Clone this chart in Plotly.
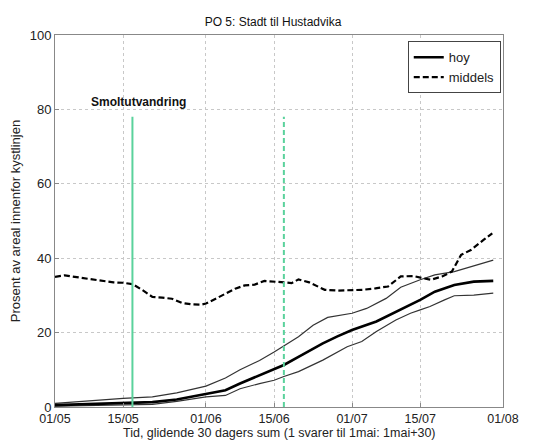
import pandas as pd
import plotly.graph_objects as go

# Day offsets from 01/05 and values
hoy_days = [0, 7, 14, 20, 25, 31, 35, 38, 42, 45, 47, 50, 55, 58, 61, 66, 70, 75, 78, 82, 86, 90]
hoy_vals = [0.5, 0.8, 1.0, 1.3, 2.0, 3.6, 4.5, 6.3, 8.5, 10.0, 11.3, 13.5, 17.1, 19.0, 20.7, 23.0, 25.6, 28.8, 31.0, 32.8, 33.7, 33.9]

upper_days = [0, 7, 14, 20, 25, 31, 35, 38, 42, 45, 47, 50, 53, 56, 61, 64, 68, 71, 75, 78, 82, 86, 90]
upper_vals = [1.0, 1.7, 2.3, 2.7, 3.8, 5.6, 7.8, 10.0, 12.5, 14.8, 16.4, 18.9, 22.0, 24.1, 25.2, 26.5, 29.2, 32.2, 34.2, 35.5, 36.4, 37.9, 39.5]

lower_days = [0, 7, 14, 20, 25, 31, 35, 38, 42, 45, 47, 50, 55, 60, 63, 66, 70, 73, 75, 77, 80, 82, 86, 90]
lower_vals = [0.2, 0.35, 0.5, 0.7, 1.5, 2.7, 3.1, 4.9, 6.3, 7.2, 8.2, 9.5, 12.6, 16.2, 17.6, 20.3, 23.4, 25.2, 26.1, 27.0, 28.8, 29.9, 30.1, 30.6]

mid_days = [0, 2, 5, 9, 12, 14, 16, 18, 20, 22, 24, 26, 28, 30, 31, 33, 35, 37, 39, 41, 43, 45, 47, 48.6, 50, 52.2,
            55.4, 58, 61, 63.2, 65.8, 68.4, 71, 73.6, 75.6, 77.2, 79.5, 81.5, 83.4, 85.4, 88, 89.8]
mid_vals = [35.0, 35.4, 34.8, 34.1, 33.5, 33.4, 33.0, 31.4, 29.6, 29.4, 29.1, 28.0, 27.6, 27.5, 27.8, 29.1, 30.5, 31.8,
            32.7, 32.9, 33.9, 33.6, 33.5, 33.3, 34.3, 33.5, 31.5, 31.3, 31.3, 31.5, 31.9, 32.4, 35.1, 35.2, 34.6, 34.2,
            35.1, 36.4, 40.9, 42.2, 44.9, 46.7]

smolt_days = [15.9, 47.0]
smolt_top = 78
smolt_label = "Smoltutvandring"
smolt_label_day = 6.9
smolt_label_y = 82

tick_labels = ["01/05", "15/05", "01/06", "15/06", "01/07", "15/07", "01/08"]
tick_dates = ["2015-05-01", "2015-05-15", "2015-06-01", "2015-06-15", "2015-07-01", "2015-07-15", "2015-08-01"]
y_ticks = [0, 20, 40, 60, 80, 100]
x_title = "Tid, glidende 30 dagers sum (1 svarer til 1mai: 1mai+30)"

start = pd.Timestamp("2015-05-01")


def to_dates(days):
    return [start + pd.Timedelta(days=d) for d in days]


FONT = "Liberation Sans, Arial, sans-serif"
GREEN = "#5ad29c"

fig = go.Figure()
fig.add_trace(go.Scatter(x=to_dates(upper_days), y=upper_vals, mode="lines",
                         line=dict(color="#333333", width=1.2), showlegend=False, hoverinfo="skip"))
fig.add_trace(go.Scatter(x=to_dates(lower_days), y=lower_vals, mode="lines",
                         line=dict(color="#333333", width=1.2), showlegend=False, hoverinfo="skip"))
fig.add_trace(go.Scatter(x=to_dates(hoy_days), y=hoy_vals, mode="lines", name="hoy",
                         line=dict(color="#000000", width=2.6)))
fig.add_trace(go.Scatter(x=to_dates(mid_days), y=mid_vals, mode="lines", name="middels",
                         line=dict(color="#000000", width=2.2, dash="6px,3px")))

dashes = ["solid", "5px,3px"]
for d, ds in zip(smolt_days, dashes):
    dt = start + pd.Timedelta(days=d)
    fig.add_trace(go.Scatter(x=[dt, dt], y=[0, smolt_top], mode="lines",
                             line=dict(color=GREEN, width=2, dash=ds), showlegend=False, hoverinfo="skip"))

fig.add_annotation(x=start + pd.Timedelta(days=smolt_label_day), y=smolt_label_y, text="<b>" + smolt_label + "</b>",
                   showarrow=False, xanchor="left", yanchor="middle",
                   font=dict(family=FONT, size=12, color="#111111"))

fig.add_annotation(x=0.5, y=-0.0914, xref="paper", yref="paper", text=x_title, showarrow=False,
                   xanchor="center", yanchor="bottom", borderpad=0,
                   font=dict(family=FONT, size=12.5, color="#222222"))

fig.update_layout(
    width=546, height=441,
    margin=dict(l=55, r=43, t=35, b=34),
    paper_bgcolor="white", plot_bgcolor="white",
    font=dict(family=FONT, size=13, color="#222222"),
    title=dict(text="PO 5: Stadt til Hustadvika", x=0.5, xanchor="center", y=0.95, yanchor="middle",
               font=dict(size=12, color="#111111")),
    legend=dict(x=0.995, y=0.983, xanchor="right", yanchor="top", bgcolor="white",
                bordercolor="#444444", borderwidth=1, font=dict(size=13), itemwidth=30,
                tracegroupgap=0),
    showlegend=True,
)
fig.update_xaxes(
    range=[pd.Timestamp(tick_dates[0]), pd.Timestamp(tick_dates[-1])],
    tickvals=[pd.Timestamp(t) for t in tick_dates], ticktext=tick_labels,
    tickfont=dict(size=12.5),
    showgrid=True, gridcolor="#c8c8c8", griddash="dot", gridwidth=1,
    showline=True, linecolor="#888888", linewidth=1, mirror=True,
    ticks="inside", ticklen=4, tickcolor="#888888", ticklabelstandoff=0,
    automargin=False,
    zeroline=False,
)
fig.update_yaxes(
    range=[0, 100], tickvals=y_ticks,
    showgrid=True, gridcolor="#c8c8c8", griddash="dot", gridwidth=1,
    showline=True, linecolor="#888888", linewidth=1, mirror=True,
    ticks="inside", ticklen=4, tickcolor="#888888",
    title=dict(text="Prosent av areal innenfor kystlinjen", standoff=6, font=dict(size=13)),
    zeroline=False,
)

fig.write_html("out.html")
